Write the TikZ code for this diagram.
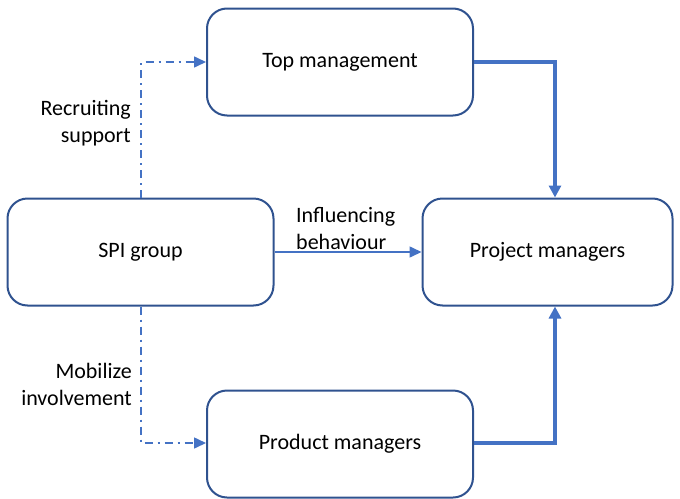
\documentclass[tikz,border=0pt]{standalone}
\usepackage{fontspec}
\setmainfont{Carlito}
\usetikzlibrary{arrows.meta,positioning}
\definecolor{boxline}{HTML}{2F528F}
\definecolor{conn}{HTML}{4472C4}
\begin{document}
\begin{tikzpicture}[x=1pt,y=-1pt,
  box/.style={draw=boxline,line width=2pt,rounded corners=20pt,minimum width=266pt,minimum height=107pt,inner sep=0pt,font=\fontsize{22}{27}\selectfont},
  thick conn/.style={draw=conn,line width=4pt,-{Triangle[length=12pt,width=12pt]}},
  thin conn/.style={draw=conn,line width=1.6pt,-{Triangle[length=12pt,width=11pt]}},
  dd conn/.style={draw=conn,line width=1.6pt,dash pattern=on 8pt off 5pt on 2pt off 5pt,-{Triangle[length=12pt,width=11pt]}},
  lbl/.style={font=\fontsize{22}{27}\selectfont,align=right,inner sep=0pt}]
\useasboundingbox (0,0) rectangle (680,498);
\node[box] (top) at (340,62) {Top management};
\node[box] (spi) at (140.5,252) {SPI group};
\node[box,minimum width=250pt] (pm) at (547.5,252) {Project managers};
\node[box] (prod) at (340,444) {Product managers};
\coordinate (c1) at (141,62);
\coordinate (c2) at (141,443);
\coordinate (c3) at (555,62);
\coordinate (c4) at (555,443);
\draw[dd conn] (spi.north -| c1) -- (c1) -- (top.west);
\draw[dd conn] (spi.south -| c1) -- (c2) -- (prod.west |- c2);
\draw[thin conn] (spi.east) -- (pm.west);
\draw[thick conn] (top.east) -- (c3) -- (pm.north -| c3);
\draw[thick conn] (prod.east |- c4) -- (c4) -- (pm.south -| c4);
\node[lbl,anchor=east] (l1) at (131,123) {Recruiting\\support};
\node[lbl,anchor=east] (l2) at (132,384) {Mobilize\\involvement};
\node[lbl,anchor=west,align=left] (l3) at (296,229) {Influencing\\behaviour};
\end{tikzpicture}
\end{document}
